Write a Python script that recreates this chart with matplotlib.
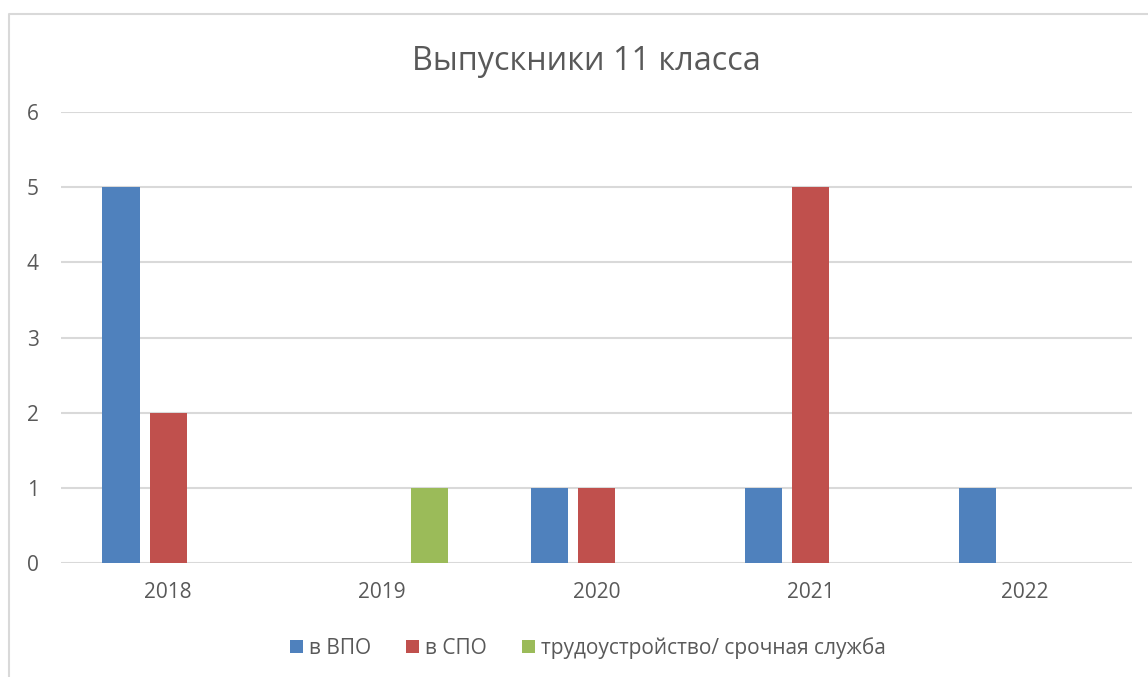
import numpy as np
import matplotlib.pyplot as plt
from matplotlib.lines import Line2D

plt.rcParams['font.family'] = ['Open Sans', 'DejaVu Sans']

# data
years = ['2018', '2019', '2020', '2021', '2022']
vpo = [5, 0, 1, 1, 1]      # в ВПО
spo = [2, 0, 1, 5, 0]      # в СПО
work = [0, 1, 0, 0, 0]     # трудоустройство/ срочная служба
series_names = ['в ВПО', 'в СПО', 'трудоустройство/ срочная служба']
colors = ['#4F81BD', '#C0504D', '#9BBB59']

txt = '#595959'
grid = '#D9D9D9'

fig = plt.figure(figsize=(11.48, 6.77), dpi=100)
ax = fig.add_axes([61/1148, 1-563/677, (1132-61)/1148, (563-112)/677])

x = np.arange(len(years))
w = 0.173
step = 0.22
for i, (vals, name, col) in enumerate(zip([vpo, spo, work], series_names, colors)):
    ax.bar(x + (i-1)*step, vals, width=w, color=col, label=name, zorder=3)

ax.set_xlim(-0.5, len(years)-0.5)
ax.set_ylim(0, 6)
ax.set_yticks(range(0, 7))
ax.set_xticks(x)
ax.set_xticklabels(years)
ax.yaxis.grid(True, color=grid, linewidth=1.5, zorder=0)
for s in ax.spines.values():
    s.set_visible(False)
ax.tick_params(length=0, colors=txt, labelsize=15)
ax.tick_params(axis='y', pad=16)
ax.tick_params(axis='x', pad=14)

fig.text(586/1148, 1-61/677, 'Выпускники 11 класса', ha='center', va='center',
         fontsize=23.3, color=txt)

leg = fig.legend(loc='center', bbox_to_anchor=(588/1148, 1-648/677), ncol=3,
                 frameon=False, fontsize=15, handlelength=0.6, handleheight=0.6,
                 handletextpad=0.3, columnspacing=1.7, labelcolor=txt)

# outer chart frame (only top and left are visible in the crop)
fig.add_artist(Line2D([9/1148, 9/1148, 1.0], [0.0, 1-14/677, 1-14/677],
                      transform=fig.transFigure, color=grid, linewidth=1.5))

fig.savefig('out.png', dpi=100)
